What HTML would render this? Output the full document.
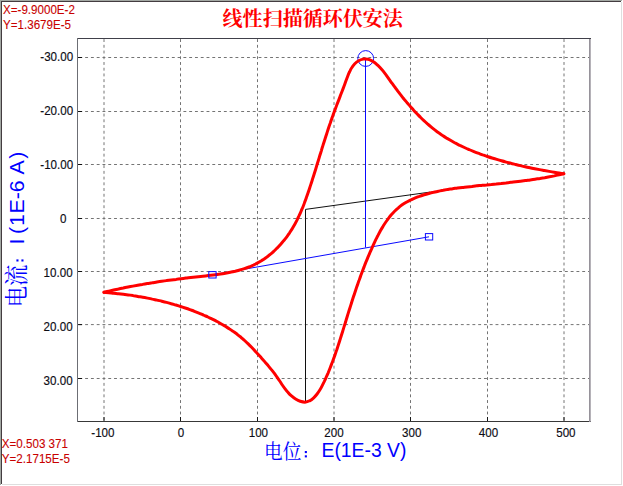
<!DOCTYPE html>
<html><head><meta charset="utf-8"><title>CV</title>
<style>
html,body{margin:0;padding:0;background:#fff;overflow:hidden;}
body{width:623px;height:486px;position:relative;overflow:hidden;font-family:"Liberation Sans",sans-serif;}
.b{position:absolute;}
</style></head><body>
<div class="b" style="left:0;top:0;width:622px;height:1px;background:#a3a8a3"></div>
<div class="b" style="left:0;top:0;width:1px;height:485px;background:#a3a8a3"></div>
<div class="b" style="left:1px;top:1px;width:620px;height:1px;background:#443c40"></div>
<div class="b" style="left:1px;top:1px;width:1px;height:483px;background:#443c40"></div>
<div class="b" style="left:621px;top:2px;width:1px;height:483px;background:#dedede"></div>
<div class="b" style="left:2px;top:484px;width:620px;height:1px;background:#dedede"></div>
<svg width="623" height="486" viewBox="0 0 623 486" style="position:absolute;left:0;top:0">
<g stroke="#747474" stroke-width="1"><g stroke-dasharray="2.9 2.83"><line x1="104.00" y1="39.1" x2="104.00" y2="421"/><line x1="180.50" y1="39.1" x2="180.50" y2="421"/><line x1="257.50" y1="39.1" x2="257.50" y2="421"/><line x1="334.00" y1="39.1" x2="334.00" y2="421"/><line x1="410.50" y1="39.1" x2="410.50" y2="421"/><line x1="487.50" y1="39.1" x2="487.50" y2="421"/><line x1="564.00" y1="39.1" x2="564.00" y2="421"/></g><g stroke-dasharray="2.89 2.89"><line x1="79.37" y1="57.50" x2="589" y2="57.50"/><line x1="79.37" y1="111.50" x2="589" y2="111.50"/><line x1="79.37" y1="164.50" x2="589" y2="164.50"/><line x1="79.37" y1="218.50" x2="589" y2="218.50"/><line x1="79.37" y1="271.50" x2="589" y2="271.50"/><line x1="79.37" y1="324.60" x2="589" y2="324.60"/><line x1="79.37" y1="378.50" x2="589" y2="378.50"/></g></g>
<g>
<rect x="77" y="38" width="514" height="1" fill="#40404a"/>
<rect x="77" y="421" width="514" height="1" fill="#383838"/>
<rect x="77" y="38" width="1" height="384" fill="#6c6e74"/>
<rect x="589" y="39" width="1.7" height="383" fill="#96929a"/>
<rect x="103.5" y="417" width="1" height="4" fill="#181818"/>
<rect x="180.0" y="417" width="1" height="4" fill="#181818"/>
<rect x="257.0" y="417" width="1" height="4" fill="#181818"/>
<rect x="333.5" y="417" width="1" height="4" fill="#181818"/>
<rect x="410.0" y="417" width="1" height="4" fill="#181818"/>
<rect x="487.0" y="417" width="1" height="4" fill="#181818"/>
<rect x="563.5" y="417" width="1" height="4" fill="#181818"/>
<rect x="78" y="57.0" width="4" height="1" fill="#101010"/>
<rect x="78" y="111.0" width="4" height="1" fill="#101010"/>
<rect x="78" y="164.0" width="4" height="1" fill="#101010"/>
<rect x="78" y="218.0" width="4" height="1" fill="#101010"/>
<rect x="78" y="271.0" width="4" height="1" fill="#101010"/>
<rect x="78" y="324.1" width="4" height="1" fill="#101010"/>
<rect x="78" y="378.0" width="4" height="1" fill="#101010"/>
</g>
<path d="M305.5 402V209.4L430 192.1" fill="none" stroke="#101010" stroke-width="1"/>
<g fill="none" stroke="#0a0aff" stroke-width="1">
<path d="M212.5 274.8L429 236.8"/>
<path d="M365.5 58.5V247.5"/>
<circle cx="365.7" cy="58.5" r="7.9"/>
</g>
<g fill="none" stroke="#ff0000" stroke-width="3" stroke-linejoin="round" stroke-linecap="round">
<path d="M104.0 292.3C104.8 292.1 107.2 291.5 108.8 291.1C110.4 290.8 112.0 290.4 113.6 290.0C115.3 289.7 116.9 289.3 118.5 289.0C120.1 288.6 121.7 288.3 123.3 288.0C124.9 287.6 126.5 287.3 128.1 287.0C129.7 286.7 131.3 286.4 132.9 286.1C134.5 285.8 136.1 285.5 137.7 285.2C139.3 284.9 140.9 284.6 142.5 284.4C144.1 284.1 145.7 283.8 147.3 283.5C148.9 283.3 150.5 283.0 152.1 282.8C153.7 282.5 155.3 282.3 156.9 282.0C158.5 281.8 160.1 281.6 161.7 281.3C163.3 281.1 164.9 280.9 166.5 280.6C168.1 280.4 169.7 280.2 171.3 280.0C173.0 279.8 174.6 279.6 176.2 279.4C177.8 279.1 179.4 278.9 181.1 278.7C182.7 278.5 184.3 278.3 185.9 278.1C187.6 277.9 189.2 277.8 190.8 277.6C192.5 277.4 194.1 277.2 195.7 277.0C197.4 276.8 199.0 276.6 200.7 276.4C202.3 276.3 204.0 276.1 205.6 275.9C207.3 275.7 208.9 275.5 210.6 275.3C212.3 275.1 213.9 274.9 215.6 274.7C217.2 274.5 218.9 274.3 220.5 274.0C222.1 273.8 223.8 273.5 225.4 273.2C227.0 272.9 228.6 272.6 230.3 272.3C231.9 272.0 233.5 271.6 235.1 271.3C236.6 270.9 238.2 270.5 239.8 270.0C241.3 269.6 242.9 269.1 244.4 268.6C246.0 268.1 247.5 267.6 249.0 267.0C250.5 266.4 252.0 265.7 253.4 265.1C254.9 264.4 256.3 263.7 257.7 262.9C259.1 262.1 260.5 261.3 261.9 260.4C263.3 259.6 264.6 258.7 265.9 257.7C267.3 256.8 268.6 255.8 269.8 254.7C271.1 253.7 272.3 252.6 273.6 251.5C274.8 250.4 276.0 249.3 277.1 248.1C278.3 246.9 279.4 245.7 280.5 244.5C281.6 243.3 282.7 242.0 283.7 240.7C284.8 239.4 285.8 238.1 286.8 236.8C287.8 235.5 288.7 234.1 289.6 232.8C290.5 231.4 291.4 230.0 292.3 228.6C293.1 227.2 293.9 225.8 294.7 224.4C295.5 223.0 296.3 221.5 297.0 220.1C297.7 218.6 298.4 217.1 299.1 215.7C299.8 214.2 300.5 212.7 301.1 211.2C301.7 209.7 302.4 208.2 303.0 206.7C303.6 205.2 304.2 203.7 304.7 202.1C305.3 200.6 305.9 199.1 306.4 197.5C307.0 196.0 307.5 194.4 308.0 192.9C308.6 191.3 309.1 189.8 309.6 188.2C310.1 186.7 310.6 185.1 311.1 183.6C311.7 182.0 312.2 180.4 312.6 178.9C313.1 177.3 313.6 175.7 314.1 174.2C314.6 172.6 315.1 171.0 315.6 169.5C316.1 167.9 316.6 166.3 317.0 164.7C317.5 163.2 318.0 161.6 318.5 160.0C319.0 158.5 319.4 156.9 319.9 155.3C320.4 153.7 320.9 152.2 321.4 150.6C321.8 149.0 322.3 147.5 322.8 145.9C323.3 144.3 323.8 142.8 324.3 141.2C324.8 139.7 325.3 138.1 325.8 136.5C326.3 135.0 326.8 133.4 327.3 131.9C327.8 130.3 328.3 128.8 328.8 127.3C329.3 125.7 329.8 124.2 330.4 122.7C330.9 121.1 331.4 119.6 332.0 118.1C332.5 116.5 333.1 115.0 333.6 113.5C334.2 112.0 334.8 110.5 335.3 109.0C335.9 107.5 336.5 105.9 337.0 104.4C337.6 102.9 338.2 101.4 338.8 99.9C339.4 98.4 340.0 96.8 340.5 95.3C341.1 93.8 341.7 92.2 342.3 90.7C342.9 89.1 343.5 87.6 344.1 86.0C344.7 84.4 345.3 82.9 345.8 81.3C346.4 79.7 347.0 78.1 347.6 76.5C348.2 74.9 348.8 73.3 349.6 71.8C350.3 70.3 351.0 68.8 351.9 67.5C352.7 66.1 353.7 64.8 354.8 63.7C355.9 62.6 357.2 61.6 358.6 60.8C360.0 60.0 361.7 59.4 363.2 59.1C364.8 58.9 366.5 58.9 368.1 59.3C369.7 59.6 371.2 60.5 372.6 61.3C374.0 62.1 375.3 63.1 376.5 64.2C377.8 65.2 378.9 66.3 380.0 67.5C381.1 68.7 382.2 69.9 383.2 71.2C384.2 72.5 385.2 73.8 386.2 75.1C387.1 76.4 388.1 77.8 389.0 79.1C390.0 80.5 391.0 81.8 391.9 83.2C392.9 84.5 393.9 85.9 394.9 87.2C395.8 88.5 396.8 89.8 397.8 91.2C398.8 92.5 399.8 93.8 400.9 95.1C401.9 96.4 402.9 97.7 403.9 99.0C405.0 100.2 406.0 101.5 407.1 102.8C408.2 104.0 409.2 105.3 410.3 106.5C411.4 107.7 412.5 109.0 413.6 110.2C414.7 111.4 415.8 112.6 417.0 113.8C418.1 114.9 419.2 116.1 420.4 117.2C421.6 118.4 422.7 119.5 423.9 120.6C425.1 121.7 426.3 122.8 427.5 123.9C428.8 125.0 430.0 126.0 431.3 127.1C432.5 128.1 433.8 129.1 435.1 130.1C436.3 131.1 437.6 132.1 439.0 133.0C440.3 133.9 441.6 134.9 443.0 135.7C444.3 136.6 445.7 137.5 447.1 138.4C448.5 139.2 449.9 140.0 451.3 140.8C452.7 141.6 454.1 142.4 455.6 143.2C457.0 143.9 458.5 144.7 459.9 145.4C461.4 146.1 462.9 146.8 464.4 147.5C465.9 148.2 467.4 148.9 468.9 149.5C470.4 150.2 471.9 150.8 473.4 151.4C474.9 152.0 476.5 152.6 478.0 153.2C479.6 153.8 481.1 154.3 482.7 154.9C484.2 155.4 485.8 156.0 487.3 156.5C488.9 157.0 490.5 157.5 492.0 158.0C493.6 158.5 495.2 159.0 496.8 159.4C498.3 159.9 499.9 160.4 501.5 160.8C503.1 161.3 504.6 161.7 506.2 162.1C507.8 162.5 509.4 162.9 511.0 163.3C512.5 163.8 514.1 164.1 515.7 164.5C517.3 164.9 518.9 165.3 520.4 165.6C522.0 166.0 523.6 166.4 525.2 166.7C526.8 167.1 528.4 167.4 530.0 167.7C531.6 168.1 533.2 168.4 534.8 168.7C536.4 169.0 538.0 169.3 539.6 169.6C541.2 170.0 542.8 170.2 544.4 170.5C546.0 170.8 547.6 171.1 549.2 171.4C550.8 171.7 552.4 172.0 554.1 172.2C555.7 172.5 557.3 172.8 558.9 173.0C560.5 173.3 563.0 173.7 563.8 173.8"/>
<path d="M563.8 173.8C563.0 174.0 560.6 174.5 559.1 174.9C557.5 175.2 555.9 175.5 554.3 175.9C552.7 176.2 551.1 176.5 549.5 176.8C547.9 177.1 546.3 177.4 544.7 177.7C543.1 177.9 541.5 178.2 539.9 178.5C538.3 178.7 536.7 179.0 535.1 179.2C533.5 179.5 531.9 179.7 530.2 179.9C528.6 180.1 527.0 180.4 525.4 180.6C523.8 180.8 522.2 181.0 520.5 181.2C518.9 181.4 517.3 181.6 515.7 181.8C514.1 182.0 512.4 182.1 510.8 182.3C509.2 182.5 507.6 182.7 506.0 182.9C504.3 183.0 502.7 183.2 501.1 183.4C499.5 183.5 497.8 183.7 496.2 183.9C494.6 184.0 493.0 184.2 491.4 184.4C489.7 184.5 488.1 184.7 486.5 184.9C484.9 185.0 483.3 185.2 481.6 185.4C480.0 185.5 478.4 185.7 476.8 185.8C475.2 186.0 473.6 186.2 472.0 186.4C470.3 186.5 468.7 186.7 467.1 186.9C465.5 187.1 463.9 187.2 462.3 187.4C460.7 187.6 459.1 187.8 457.5 188.0C455.9 188.2 454.3 188.5 452.7 188.7C451.1 188.9 449.5 189.2 447.9 189.4C446.3 189.7 444.7 190.0 443.2 190.3C441.6 190.5 440.0 190.9 438.4 191.2C436.8 191.5 435.2 191.9 433.6 192.3C432.0 192.6 430.4 193.0 428.8 193.5C427.2 193.9 425.7 194.3 424.1 194.8C422.5 195.3 420.9 195.8 419.3 196.4C417.8 196.9 416.2 197.5 414.7 198.1C413.1 198.8 411.6 199.4 410.1 200.2C408.7 200.9 407.2 201.6 405.8 202.5C404.5 203.3 403.1 204.2 401.8 205.1C400.5 206.0 399.3 207.0 398.1 208.1C396.9 209.1 395.7 210.2 394.6 211.3C393.5 212.4 392.4 213.6 391.3 214.8C390.3 216.0 389.3 217.3 388.3 218.6C387.4 219.8 386.4 221.2 385.5 222.5C384.6 223.8 383.7 225.2 382.9 226.6C382.0 228.0 381.2 229.4 380.4 230.8C379.6 232.3 378.8 233.7 378.1 235.2C377.3 236.6 376.6 238.1 375.8 239.6C375.1 241.1 374.4 242.6 373.7 244.1C373.0 245.6 372.3 247.1 371.7 248.6C371.0 250.1 370.4 251.6 369.7 253.1C369.1 254.6 368.4 256.1 367.8 257.6C367.2 259.1 366.6 260.6 365.9 262.1C365.3 263.6 364.7 265.1 364.2 266.6C363.6 268.1 363.0 269.7 362.4 271.2C361.8 272.7 361.3 274.2 360.7 275.7C360.2 277.3 359.6 278.8 359.1 280.3C358.5 281.8 358.0 283.4 357.5 284.9C356.9 286.4 356.4 287.9 355.9 289.5C355.4 291.0 354.9 292.5 354.4 294.1C353.8 295.6 353.3 297.1 352.8 298.7C352.3 300.2 351.8 301.8 351.4 303.3C350.9 304.9 350.4 306.4 349.9 308.0C349.4 309.5 348.9 311.1 348.4 312.6C347.9 314.2 347.5 315.7 347.0 317.3C346.5 318.8 346.0 320.4 345.6 322.0C345.1 323.5 344.6 325.1 344.1 326.6C343.6 328.2 343.2 329.8 342.7 331.3C342.2 332.9 341.7 334.5 341.2 336.0C340.7 337.6 340.2 339.1 339.7 340.7C339.2 342.2 338.7 343.8 338.2 345.4C337.7 346.9 337.2 348.5 336.7 350.0C336.1 351.5 335.6 353.1 335.1 354.6C334.5 356.2 334.0 357.7 333.4 359.2C332.9 360.8 332.3 362.3 331.7 363.8C331.2 365.3 330.6 366.8 330.0 368.3C329.4 369.8 328.8 371.3 328.2 372.8C327.5 374.3 326.9 375.8 326.2 377.2C325.6 378.7 324.9 380.1 324.2 381.6C323.5 383.0 322.8 384.4 322.1 385.8C321.4 387.2 320.7 388.6 319.8 390.0C319.0 391.3 318.1 392.7 317.1 394.0C316.1 395.3 314.9 396.7 313.7 397.8C312.4 399.0 311.0 400.1 309.6 400.8C308.1 401.6 306.6 402.1 305.0 402.2C303.5 402.2 301.8 401.8 300.2 401.3C298.6 400.8 297.0 399.9 295.6 399.0C294.1 398.1 292.8 397.0 291.5 395.9C290.3 394.9 289.1 393.7 288.1 392.5C287.0 391.4 286.0 390.1 285.1 388.9C284.1 387.6 283.2 386.3 282.3 385.0C281.4 383.7 280.6 382.3 279.7 381.0C278.8 379.7 277.9 378.4 277.0 377.1C276.1 375.8 275.1 374.5 274.2 373.2C273.2 371.9 272.2 370.6 271.2 369.4C270.2 368.1 269.1 366.8 268.1 365.6C267.0 364.3 266.0 363.1 264.9 361.9C263.8 360.6 262.7 359.4 261.6 358.2C260.5 357.0 259.4 355.7 258.3 354.5C257.2 353.3 256.1 352.1 255.0 350.9C253.9 349.7 252.8 348.5 251.6 347.3C250.5 346.2 249.3 345.0 248.2 343.9C247.0 342.7 245.8 341.6 244.6 340.5C243.4 339.4 242.2 338.4 241.0 337.3C239.7 336.3 238.4 335.3 237.2 334.3C235.9 333.3 234.6 332.4 233.2 331.4C231.9 330.5 230.6 329.6 229.2 328.7C227.9 327.8 226.5 327.0 225.1 326.1C223.7 325.3 222.3 324.5 220.9 323.7C219.5 322.9 218.1 322.1 216.6 321.3C215.2 320.6 213.8 319.8 212.3 319.1C210.8 318.4 209.4 317.7 207.9 317.0C206.4 316.3 204.9 315.7 203.4 315.0C201.9 314.4 200.5 313.7 198.9 313.1C197.4 312.5 195.9 311.9 194.4 311.3C192.9 310.7 191.4 310.2 189.8 309.6C188.3 309.0 186.8 308.5 185.2 308.0C183.7 307.5 182.2 307.0 180.6 306.5C179.1 306.0 177.5 305.5 175.9 305.0C174.4 304.6 172.8 304.1 171.3 303.7C169.7 303.2 168.1 302.8 166.5 302.4C165.0 302.0 163.4 301.6 161.8 301.2C160.2 300.8 158.6 300.5 157.0 300.1C155.5 299.8 153.9 299.4 152.3 299.1C150.7 298.7 149.1 298.4 147.5 298.1C145.9 297.8 144.3 297.5 142.7 297.2C141.1 296.9 139.5 296.7 137.8 296.4C136.2 296.1 134.6 295.9 133.0 295.6C131.4 295.4 129.8 295.2 128.2 294.9C126.6 294.7 125.0 294.5 123.3 294.3C121.7 294.1 120.1 293.9 118.5 293.7C116.9 293.5 115.3 293.4 113.7 293.2C112.1 293.0 110.4 292.9 108.8 292.7C107.2 292.6 104.8 292.4 104.0 292.3"/>
</g>
<g fill="none" stroke="#0a0aff" stroke-width="1"><rect x="208.8" y="271.6" width="7.3" height="6.4"/><rect x="425.4" y="233.6" width="7.3" height="6.4"/></g>
<g font-family="'Liberation Sans', sans-serif" font-size="12.4" fill="#0c0c14" stroke="#0c0c14" stroke-width="0.15">
<text transform="translate(102.90 436.50) scale(0.937 1)" text-anchor="middle">-100</text>
<text transform="translate(181.10 436.50) scale(0.937 1)" text-anchor="middle">0</text>
<text transform="translate(258.40 436.50) scale(0.937 1)" text-anchor="middle">100</text>
<text transform="translate(334.00 436.50) scale(0.937 1)" text-anchor="middle">200</text>
<text transform="translate(411.70 436.50) scale(0.937 1)" text-anchor="middle">300</text>
<text transform="translate(488.50 436.50) scale(0.937 1)" text-anchor="middle">400</text>
<text transform="translate(565.90 436.50) scale(0.937 1)" text-anchor="middle">500</text>
<text transform="translate(73.20 61.20) scale(0.937 1)" text-anchor="end">-30.00</text>
<text transform="translate(73.20 115.30) scale(0.937 1)" text-anchor="end">-20.00</text>
<text transform="translate(73.20 168.60) scale(0.937 1)" text-anchor="end">-10.00</text>
<text transform="translate(66.50 223.40) scale(0.937 1)" text-anchor="end">0</text>
<text transform="translate(72.60 276.90) scale(0.937 1)" text-anchor="end">10.00</text>
<text transform="translate(72.60 330.50) scale(0.937 1)" text-anchor="end">20.00</text>
<text transform="translate(72.60 384.90) scale(0.937 1)" text-anchor="end">30.00</text>
</g>
<g font-family="'Liberation Sans', sans-serif" font-size="12.4" fill="#c80000" stroke="#c80000" stroke-width="0.1">
<text transform="translate(3.00 14.20) scale(0.937 1)">X=-9.9000E-2</text>
<text transform="translate(3.00 29.20) scale(0.937 1)">Y=1.3679E-5</text>
<text transform="translate(1.80 448.30) scale(0.937 1)">X=0.503 371</text>
<text transform="translate(1.80 463.30) scale(0.937 1)">Y=2.1715E-5</text>
</g>
<text x="222.6" y="25.5" font-family="'Liberation Serif', 'Noto Serif CJK SC', serif" font-size="20.05" font-weight="bold" fill="#ff0000">线性扫描循环伏安法</text>
<text transform="translate(264.00 458.80) scale(0.900 1)" font-family="'Liberation Serif', 'Noto Serif CJK SC', serif" font-size="20.74" fill="#0000ff">电位</text>
<rect x="304.8" y="451" width="2.1" height="2.1" fill="#0000ff"/><rect x="304.8" y="455.3" width="2.1" height="2.1" fill="#0000ff"/>
<text x="321.5" y="457.3" font-family="'Liberation Sans', sans-serif" font-size="19.35" fill="#0000ff">E(1E-3 V)</text>
<g transform="translate(23.7 307.3) rotate(-90)">
<text transform="translate(0.00 1.70) scale(0.900 1)" font-family="'Liberation Serif', 'Noto Serif CJK SC', serif" font-size="23.7" fill="#0000ff">电流</text>
<rect x="45.8" y="-7.3" width="2.1" height="2.1" fill="#0000ff"/><rect x="45.8" y="-2.3" width="2.1" height="2.1" fill="#0000ff"/>
<text transform="translate(62.9 0) scale(1 0.95)" x="0 5.93 10.4 18.5 30.8 45.05 52.15 64 69.9 85.7" font-family="'Liberation Sans', sans-serif" font-size="21.33" fill="#0000ff">I (1E-6 A)</text>
</g>
</svg>
</body></html>
